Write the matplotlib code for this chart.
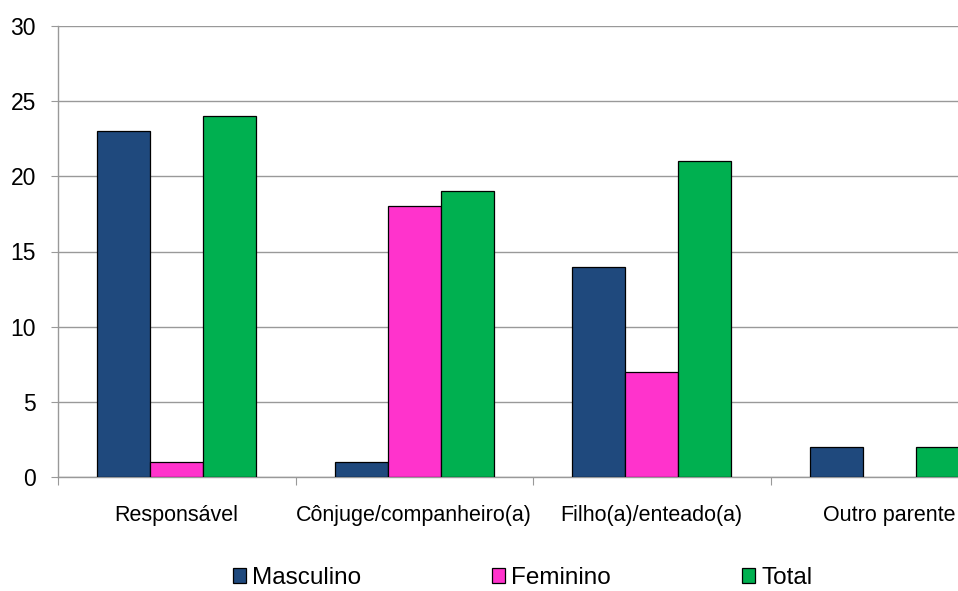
import numpy as np
import matplotlib.pyplot as plt
import matplotlib as mpl

plt.rcParams['font.family'] = ['Liberation Sans', 'DejaVu Sans']

categories = ['Responsável', 'Cônjuge/companheiro(a)', 'Filho(a)/enteado(a)', 'Outro parente']
series = ['Masculino', 'Feminino', 'Total']
masculino = [23, 1, 14, 2]
feminino = [1, 18, 7, 0]
total = [24, 19, 21, 2]
colors = ['#1F497D', '#FF33CC', '#00B050']

fig = plt.figure(figsize=(9.58, 5.91), dpi=100)
# axes run past the right edge of the picture, as in the original crop
ax = fig.add_axes([58 / 958, 1 - 477 / 591, 950 / 958, 451 / 591])

x = np.arange(len(categories))
w = 0.223
for i, (name, vals) in enumerate(zip(series, [masculino, feminino, total])):
    bars = ax.bar(x + (i - 1) * w, vals, width=w, color=colors[i],
                  edgecolor='black', linewidth=0.9, label=name, zorder=3)
    for b in bars:
        if b.get_height() == 0:
            b.set_visible(False)

ax.set_xlim(-0.5, len(categories) - 0.5)
ax.set_ylim(0, 30)
ax.set_yticks(range(0, 31, 5))
ax.grid(axis='y', color='#999999', linewidth=1, zorder=0)

# category boundaries get tick marks, labels sit at the centres
ax.set_xticks(np.arange(-0.5, len(categories), 1))
ax.set_xticklabels([])
ax.set_xticks(x, minor=True)
ax.set_xticklabels(categories, minor=True, fontsize=15.5)
ax.tick_params(axis='x', which='major', length=6, color='#999999', direction='out')
ax.tick_params(axis='x', which='minor', length=0, pad=20)
ax.tick_params(axis='y', length=5, color='#999999', pad=11, labelsize=16.5)

for s in ['top', 'right']:
    ax.spines[s].set_visible(False)
for s in ['left', 'bottom']:
    ax.spines[s].set_color('#999999')
    ax.spines[s].set_linewidth(1)

fig.legend(loc='center left', bbox_to_anchor=(233 / 958, 1 - 578 / 591), ncol=3,
           frameon=False, fontsize=17.5, handlelength=0.53, handleheight=0.53,
           handletextpad=0.25, columnspacing=5.4, borderpad=0, borderaxespad=0)

fig.savefig('out.png', dpi=100)
